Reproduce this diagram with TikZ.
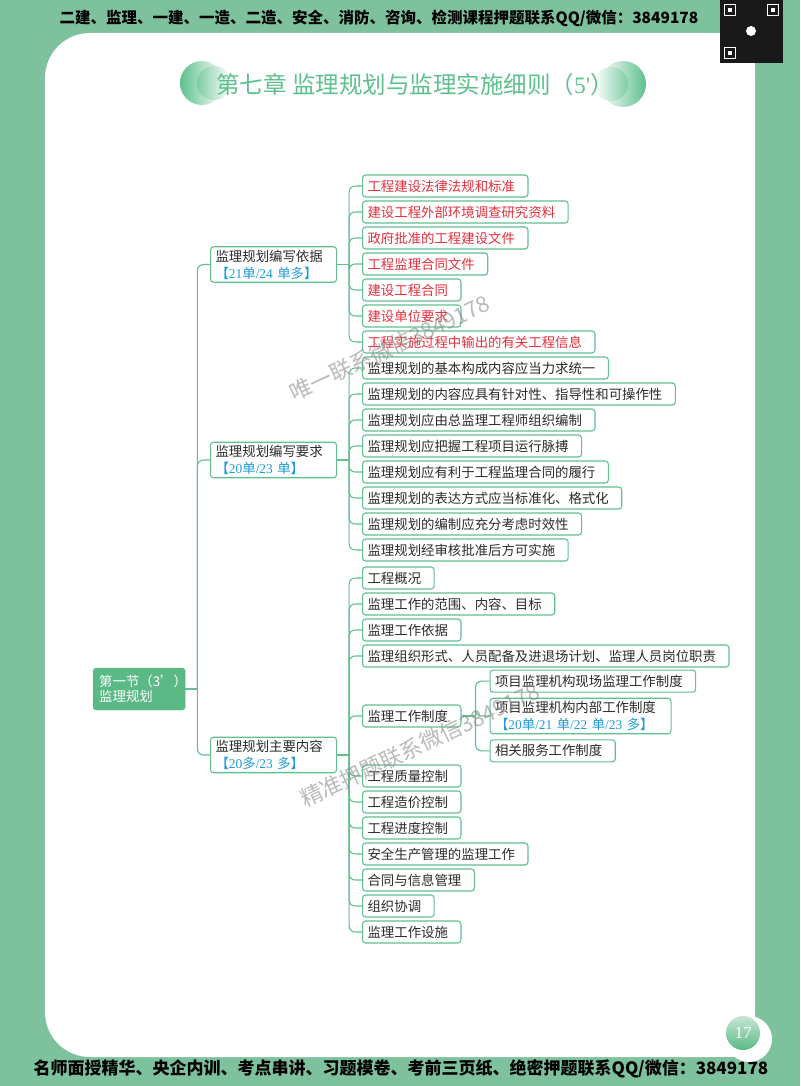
\documentclass[tikz,border=0pt]{standalone}
\usepackage{fontspec}
\setmainfont{Noto Sans CJK SC}
\newfontfamily\numfont{Liberation Serif}
\usetikzlibrary{positioning}

\definecolor{bggreen}{HTML}{7DC19D}
\definecolor{linegreen}{HTML}{62BF8F}
\definecolor{rootgreen}{HTML}{5AB985}
\definecolor{titlegreen}{HTML}{5DC08D}
\definecolor{keyred}{HTML}{E3303C}
\definecolor{scoreblue}{HTML}{1F9BD7}
\definecolor{textgray}{HTML}{2B2B2B}

\newcommand{\score}[1]{\textcolor{scoreblue}{#1}}

\begin{document}
\begin{tikzpicture}[
        x=1pt, y=-1pt,
        % Define a uniform style for all boxes
        box/.style={
            rectangle,
            draw=linegreen,
            line width=1.1pt,
            fill=white,
            rounded corners=3pt,
            anchor=west,
            minimum height=22pt,
            inner xsep=5pt,
            inner ysep=3pt,
            text=textgray,
            font=\fontsize{13.4}{17}\selectfont
        },
        leaf/.style={box, execute at end node={\hspace*{8pt}}},
        keyleaf/.style={leaf, text=keyred},
        branch/.style={box, align=left, text width=116pt},
        rootbox/.style={
            rectangle,
            draw=rootgreen,
            fill=rootgreen,
            rounded corners=3pt,
            anchor=west,
            text=white,
            align=left,
            text width=80pt,
            minimum height=42pt,
            inner xsep=6pt,
            font=\fontsize{13.4}{15}\selectfont
        },
        link/.style={
            draw=linegreen,
            line width=1.1pt,
            rounded corners=6pt
        },
        watermark/.style={
            rotate=25,
            text=black!45,
            opacity=0.6,
            font=\fontsize{22}{24}\selectfont
        }
    ]

    % Page background and white panel
    \fill[bggreen] (0,0) rectangle (800,1086);
    \fill[white, rounded corners=45pt] (45,33) rectangle (755,1057);
    \fill[white] (700,33) rectangle (755,1057);

    % QR code corner
    \fill[black!90] (720,0) rectangle (783,63);
    \draw[white, line width=1.5pt] (724.5,4.5) rectangle (735.5,15.5);
    \draw[white, line width=1.5pt] (767.5,4.5) rectangle (778.5,15.5);
    \draw[white, line width=1.5pt] (724.5,47.5) rectangle (735.5,58.5);
    \fill[white] (728,8) rectangle (732,12);
    \fill[white] (771,8) rectangle (775,12);
    \fill[white] (728,51) rectangle (732,55);
    \fill[white] (751,31) circle (5pt);

    % Banner texts
    \node (topline) [font=\bfseries\fontsize{15.5}{18}\selectfont] at (379,18)
        {二建、监理、一建、一造、二造、安全、消防、咨询、检测课程押题联系QQ/微信：3849178};
    \node (bottomline) [font=\bfseries\fontsize{17}{20}\selectfont] at (401,1069)
        {名师面授精华、央企内训、考点串讲、习题模卷、考前三页纸、绝密押题联系QQ/微信：3849178};

    % Chapter title with the two green balls
    \shade[left color=titlegreen, right color=white] (202,83) circle (22pt);
    \shade[left color=titlegreen!80, right color=white] (214,83) circle (17pt);
    \shade[right color=titlegreen, left color=white] (623,84) circle (23pt);
    \shade[right color=titlegreen!80, left color=white] (611,84) circle (17pt);
    \node (title) [text=titlegreen, font=\fontsize{23.5}{28}\selectfont] at (415,85)
        {第七章 监理规划与监理实施细则（{\numfont 5'}）};

    % Page number
    \fill[white] (749,1039) circle (23pt);
    \shade[top color=rootgreen!35!white, bottom color=rootgreen] (743,1033) circle (17pt);
    \node (pagenum) [text=white, font=\numfont\fontsize{17}{20}\selectfont] at (743,1033) {17};

    % Draw the Nodes
    \node (root) [rootbox] at (93,689) {第一节（3'）\\监理规划};

    \node (basis) [branch] at (210,264.5)
        {监理规划编写依据\\\score{【{\numfont 21}单{\numfont /24} 单多】}};
    \node (demand) [branch] at (210,460)
        {监理规划编写要求\\\score{【{\numfont 20}单{\numfont /23} 单】}};
    \node (content) [branch] at (210,755)
        {监理规划主要内容\\\score{【{\numfont 20}多{\numfont /23} 多】}};

    \node (basis1) [keyleaf] at (362,186) {工程建设法律法规和标准};
    \node (basis2) [keyleaf] at (362,212) {建设工程外部环境调查研究资料};
    \node (basis3) [keyleaf] at (362,238) {政府批准的工程建设文件};
    \node (basis4) [keyleaf] at (362,264) {工程监理合同文件};
    \node (basis5) [keyleaf] at (362,290) {建设工程合同};
    \node (basis6) [keyleaf] at (362,316) {建设单位要求};
    \node (basis7) [keyleaf] at (362,342) {工程实施过程中输出的有关工程信息};

    \node (demand1) [leaf] at (362,368) {监理规划的基本构成内容应当力求统一};
    \node (demand2) [leaf] at (362,394) {监理规划的内容应具有针对性、指导性和可操作性};
    \node (demand3) [leaf] at (362,420) {监理规划应由总监理工程师组织编制};
    \node (demand4) [leaf] at (362,446) {监理规划应把握工程项目运行脉搏};
    \node (demand5) [leaf] at (362,472) {监理规划应有利于工程监理合同的履行};
    \node (demand6) [leaf] at (362,498) {监理规划的表达方式应当标准化、格式化};
    \node (demand7) [leaf] at (362,524) {监理规划的编制应充分考虑时效性};
    \node (demand8) [leaf] at (362,550) {监理规划经审核批准后方可实施};

    \node (content1) [leaf] at (362,578) {工程概况};
    \node (content2) [leaf] at (362,604) {监理工作的范围、内容、目标};
    \node (content3) [leaf] at (362,630) {监理工作依据};
    \node (content4) [leaf] at (362,656) {监理组织形式、人员配备及进退场计划、监理人员岗位职责};
    \node (content5) [leaf] at (362,716) {监理工作制度};
    \node (content6) [leaf] at (362,776) {工程质量控制};
    \node (content7) [leaf] at (362,802) {工程造价控制};
    \node (content8) [leaf] at (362,828) {工程进度控制};
    \node (content9) [leaf] at (362,854) {安全生产管理的监理工作};
    \node (content10) [leaf] at (362,880) {合同与信息管理};
    \node (content11) [leaf] at (362,906) {组织协调};
    \node (content12) [leaf] at (362,932) {监理工作设施};

    \node (rule2) [box, align=left, text width=171pt, right=28pt of content5]
        {项目监理机构内部工作制度\\\score{【{\numfont 20}单{\numfont /21} 单{\numfont /22} 单{\numfont /23} 多】}};
    \node (rule1) [leaf, above=5pt of rule2.north west, anchor=south west] {项目监理机构现场监理工作制度};
    \node (rule3) [leaf, below=5pt of rule2.south west, anchor=north west] {相关服务工作制度};

    % Draw the connecting lines
    \draw[link] (root.east) -- ++(12,0);
    \draw[link] (root.east) ++(12,0) |- (basis.west);
    \draw[link] (root.east) ++(12,0) |- (demand.west);
    \draw[link] (root.east) ++(12,0) |- (content.west);

    \draw[link] (basis.east) -- ++(12,0);
    \draw[link] (basis.east) ++(12,0) |- (basis1.west);
    \draw[link] (basis.east) ++(12,0) |- (basis2.west);
    \draw[link] (basis.east) ++(12,0) |- (basis3.west);
    \draw[link] (basis.east) ++(12,0) |- (basis4.west);
    \draw[link] (basis.east) ++(12,0) |- (basis5.west);
    \draw[link] (basis.east) ++(12,0) |- (basis6.west);
    \draw[link] (basis.east) ++(12,0) |- (basis7.west);

    \draw[link] (demand.east) -- ++(12,0);
    \draw[link] (demand.east) ++(12,0) |- (demand1.west);
    \draw[link] (demand.east) ++(12,0) |- (demand2.west);
    \draw[link] (demand.east) ++(12,0) |- (demand3.west);
    \draw[link] (demand.east) ++(12,0) |- (demand4.west);
    \draw[link] (demand.east) ++(12,0) |- (demand5.west);
    \draw[link] (demand.east) ++(12,0) |- (demand6.west);
    \draw[link] (demand.east) ++(12,0) |- (demand7.west);
    \draw[link] (demand.east) ++(12,0) |- (demand8.west);

    \draw[link] (content.east) -- ++(12,0);
    \draw[link] (content.east) ++(12,0) |- (content1.west);
    \draw[link] (content.east) ++(12,0) |- (content2.west);
    \draw[link] (content.east) ++(12,0) |- (content3.west);
    \draw[link] (content.east) ++(12,0) |- (content4.west);
    \draw[link] (content.east) ++(12,0) |- (content5.west);
    \draw[link] (content.east) ++(12,0) |- (content6.west);
    \draw[link] (content.east) ++(12,0) |- (content7.west);
    \draw[link] (content.east) ++(12,0) |- (content8.west);
    \draw[link] (content.east) ++(12,0) |- (content9.west);
    \draw[link] (content.east) ++(12,0) |- (content10.west);
    \draw[link] (content.east) ++(12,0) |- (content11.west);
    \draw[link] (content.east) ++(12,0) |- (content12.west);

    \draw[link] (content5.east) -- ++(14,0);
    \draw[link] (content5.east) ++(14,0) |- (rule1.west);
    \draw[link] (content5.east) ++(14,0) |- (rule2.west);
    \draw[link] (content5.east) ++(14,0) |- (rule3.west);

    % Watermarks over the map
    \node (mark1) [watermark] at (390,348) {唯一联系微信3849178};
    \node (mark2) [watermark] at (420,745) {精准押题联系微信3849178};

\end{tikzpicture}
\end{document}
